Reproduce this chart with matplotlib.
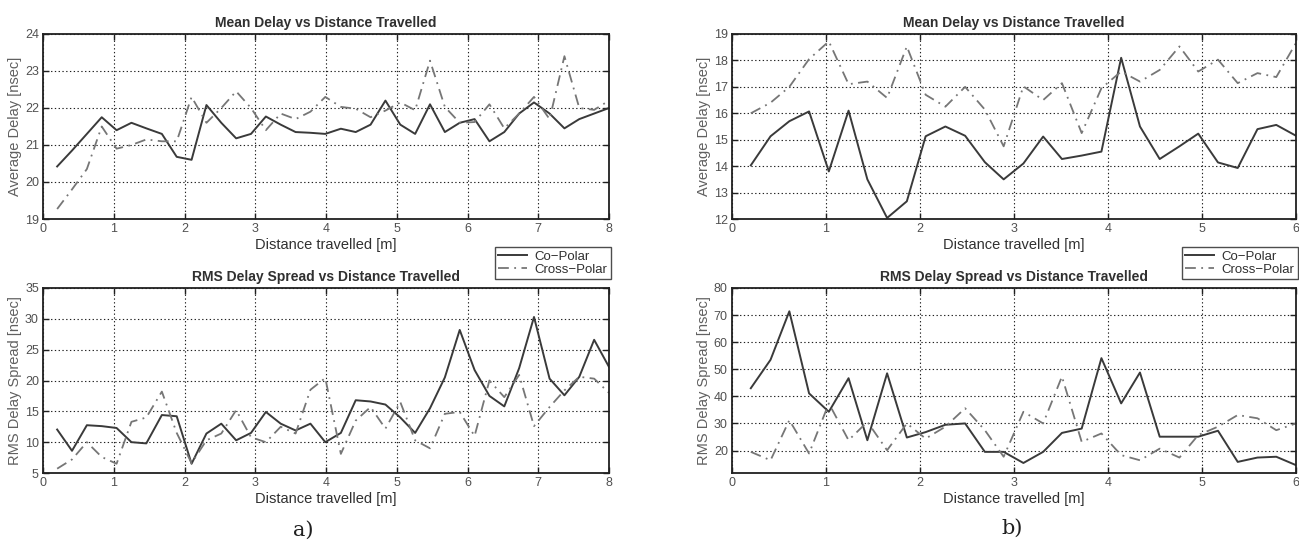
import matplotlib
matplotlib.use("Agg")
import matplotlib.pyplot as plt
import numpy as np

plt.rcParams['font.family'] = ['Liberation Sans', 'DejaVu Sans']

# measurement positions [m]
dist_a = [0.20, 0.41, 0.62, 0.83, 1.04, 1.25, 1.46, 1.68, 1.89, 2.10,
          2.31, 2.52, 2.73, 2.94, 3.15, 3.36, 3.57, 3.78, 3.99, 4.21,
          4.42, 4.63, 4.84, 5.05, 5.26, 5.47, 5.68, 5.89, 6.10, 6.31,
          6.52, 6.73, 6.94, 7.16, 7.37, 7.58, 7.79, 8.00]
dist_b = [0.20, 0.41, 0.61, 0.82, 1.03, 1.24, 1.44, 1.65, 1.86, 2.06,
          2.27, 2.48, 2.69, 2.89, 3.10, 3.31, 3.51, 3.72, 3.93, 4.14,
          4.34, 4.55, 4.76, 4.96, 5.17, 5.38, 5.59, 5.79, 6.00]

# a) mean delay [nsec]
mean_co_a = [20.42, 20.85, 21.30, 21.75, 21.40, 21.60, 21.45, 21.30, 20.68, 20.60,
             22.08, 21.60, 21.18, 21.30, 21.77, 21.55, 21.35, 21.33, 21.30, 21.44,
             21.35, 21.55, 22.20, 21.55, 21.30, 22.10, 21.35, 21.60, 21.70, 21.10,
             21.35, 21.85, 22.15, 21.85, 21.45, 21.70, 21.85, 22.00]
mean_x_a = [19.27, 19.80, 20.35, 21.50, 20.90, 21.00, 21.15, 21.10, 21.10, 22.30,
            21.60, 22.00, 22.45, 22.00, 21.40, 21.85, 21.70, 21.90, 22.30, 22.03,
            21.98, 21.75, 21.93, 22.15, 21.94, 23.28, 22.03, 21.60, 21.62, 22.10,
            21.45, 21.85, 22.30, 21.70, 23.40, 22.00, 21.95, 22.20]

# a) rms delay spread [nsec]
rms_co_a = [12.05, 8.6, 12.75, 12.6, 12.3, 10.0, 9.8, 14.4, 14.2, 6.5,
            11.4, 13.0, 10.3, 11.5, 14.9, 13.0, 11.9, 13.0, 10.0, 11.5,
            16.8, 16.6, 16.1, 14.0, 11.5, 15.5, 20.5, 28.2, 21.7, 17.5,
            15.8, 22.0, 30.3, 20.3, 17.6, 20.6, 26.6, 22.2]
rms_x_a = [5.7, 7.2, 10.0, 7.6, 6.5, 13.3, 14.0, 18.2, 11.5, 6.6,
           10.3, 11.4, 15.2, 10.8, 10.0, 12.5, 11.4, 18.5, 20.4, 8.1,
           13.5, 15.7, 12.2, 16.5, 10.3, 9.0, 14.6, 14.9, 11.0, 20.0,
           17.3, 20.9, 12.6, 15.7, 18.4, 20.6, 20.3, 18.0]

# b) mean delay [nsec]
mean_co_b = [14.03, 15.13, 15.70, 16.07, 13.80, 16.10, 13.50, 12.04, 12.67, 15.13,
             15.50, 15.15, 14.15, 13.50, 14.10, 15.12, 14.27, 14.40, 14.55, 18.10,
             15.50, 14.27, 14.75, 15.23, 14.14, 13.93, 15.40, 15.56, 15.15]
mean_x_b = [16.00, 16.40, 17.00, 18.05, 18.72, 17.10, 17.20, 16.58, 18.53, 16.70,
            16.25, 17.00, 16.14, 14.75, 17.02, 16.50, 17.14, 15.25, 16.95, 17.58,
            17.20, 17.64, 18.53, 17.58, 18.03, 17.14, 17.52, 17.37, 18.66]

# b) rms delay spread [nsec]
rms_co_b = [43.0, 53.5, 71.4, 41.1, 34.3, 46.7, 23.8, 48.5, 24.8, 26.8,
            29.5, 30.0, 19.5, 19.5, 15.4, 19.5, 26.5, 28.1, 54.1, 37.4,
            48.8, 25.1, 25.1, 25.1, 27.3, 15.8, 17.4, 17.7, 14.6]
rms_x_b = [19.5, 16.4, 31.2, 18.9, 37.4, 23.8, 30.6, 20.1, 30.0, 24.4,
           28.8, 35.6, 27.5, 17.7, 34.3, 30.0, 47.3, 23.2, 26.3, 18.3,
           16.4, 20.7, 17.4, 25.7, 28.8, 33.1, 31.9, 27.5, 30.0]

W, H = 1299, 540
fig = plt.figure(figsize=(W / 100, H / 100), dpi=100)
fig.patch.set_facecolor('white')

txt = '#303030'
tick_col = '#505050'


def add_axes(left, top, right, bottom):
    return fig.add_axes([left / W, 1 - bottom / H, (right - left) / W, (bottom - top) / H])


def style(ax, x, co, cross, title, ylabel, xlim, ylim, yticks):
    ax.plot(x, co, '-', color='#3a3a3a', lw=1.4, label='Co\u2212Polar')
    ax.plot(x, cross, '-.', color='#767676', lw=1.3, dashes=(6, 3, 1, 3),
            label='Cross\u2212Polar')
    ax.set_xlim(*xlim)
    ax.set_ylim(*ylim)
    ax.set_xticks(range(int(xlim[0]), int(xlim[1]) + 1))
    ax.set_yticks(yticks)
    ax.grid(True, color='#202020', linestyle=(0, (1.2, 2.2)), linewidth=0.8)
    ax.tick_params(direction='in', length=4, width=1, colors='#202020',
                   labelcolor=tick_col, labelsize=9, top=True, right=True, pad=3)
    for s in ax.spines.values():
        s.set_linewidth(1.3)
        s.set_color('#202020')
    ax.set_title(title, fontsize=10, fontweight='bold', color=txt, pad=5)
    ax.set_xlabel('Distance travelled [m]', fontsize=10.5, color=txt, labelpad=2)
    ax.set_ylabel(ylabel, fontsize=10.5, color='#606060', labelpad=2)


ax1 = add_axes(43, 34, 609, 219)
style(ax1, dist_a, mean_co_a, mean_x_a, 'Mean Delay vs Distance Travelled',
      'Average Delay [nsec]', (0, 8), (19, 24), range(19, 25))
ax2 = add_axes(43, 288, 609, 473)
style(ax2, dist_a, rms_co_a, rms_x_a, 'RMS Delay Spread vs Distance Travelled',
      'RMS Delay Spread [nsec]', (0, 8), (5, 35), range(5, 36, 5))
ax3 = add_axes(732, 34, 1296, 219)
style(ax3, dist_b, mean_co_b, mean_x_b, 'Mean Delay vs Distance Travelled',
      'Average Delay [nsec]', (0, 6), (12, 19), range(12, 20))
ax4 = add_axes(732, 288, 1296, 473)
style(ax4, dist_b, rms_co_b, rms_x_b, 'RMS Delay Spread vs Distance Travelled',
      'RMS Delay Spread [nsec]', (0, 6), (11.7, 80), range(20, 81, 10))

for ax, right in ((ax1, 611), (ax3, 1298)):
    h, l = ax.get_legend_handles_labels()
    leg = fig.legend(h, l, loc='upper right', bbox_to_anchor=(right / W, 1 - 247 / H),
                     fontsize=9.5, frameon=True, fancybox=False, handlelength=2.2,
                     borderpad=0.25, labelspacing=0.1, handletextpad=0.6,
                     borderaxespad=0)
    leg.get_frame().set_edgecolor('#202020')
    leg.get_frame().set_linewidth(1.0)
    for t in leg.get_texts():
        t.set_color(txt)

fig.text(303 / W, 1 - 530 / H, 'a)', fontsize=15, family='DejaVu Serif',
         ha='center', va='center', color='#202020')
fig.text(1012 / W, 1 - 528 / H, 'b)', fontsize=15, family='DejaVu Serif',
         ha='center', va='center', color='#202020')

fig.savefig('out.png', dpi=100, facecolor='white')
